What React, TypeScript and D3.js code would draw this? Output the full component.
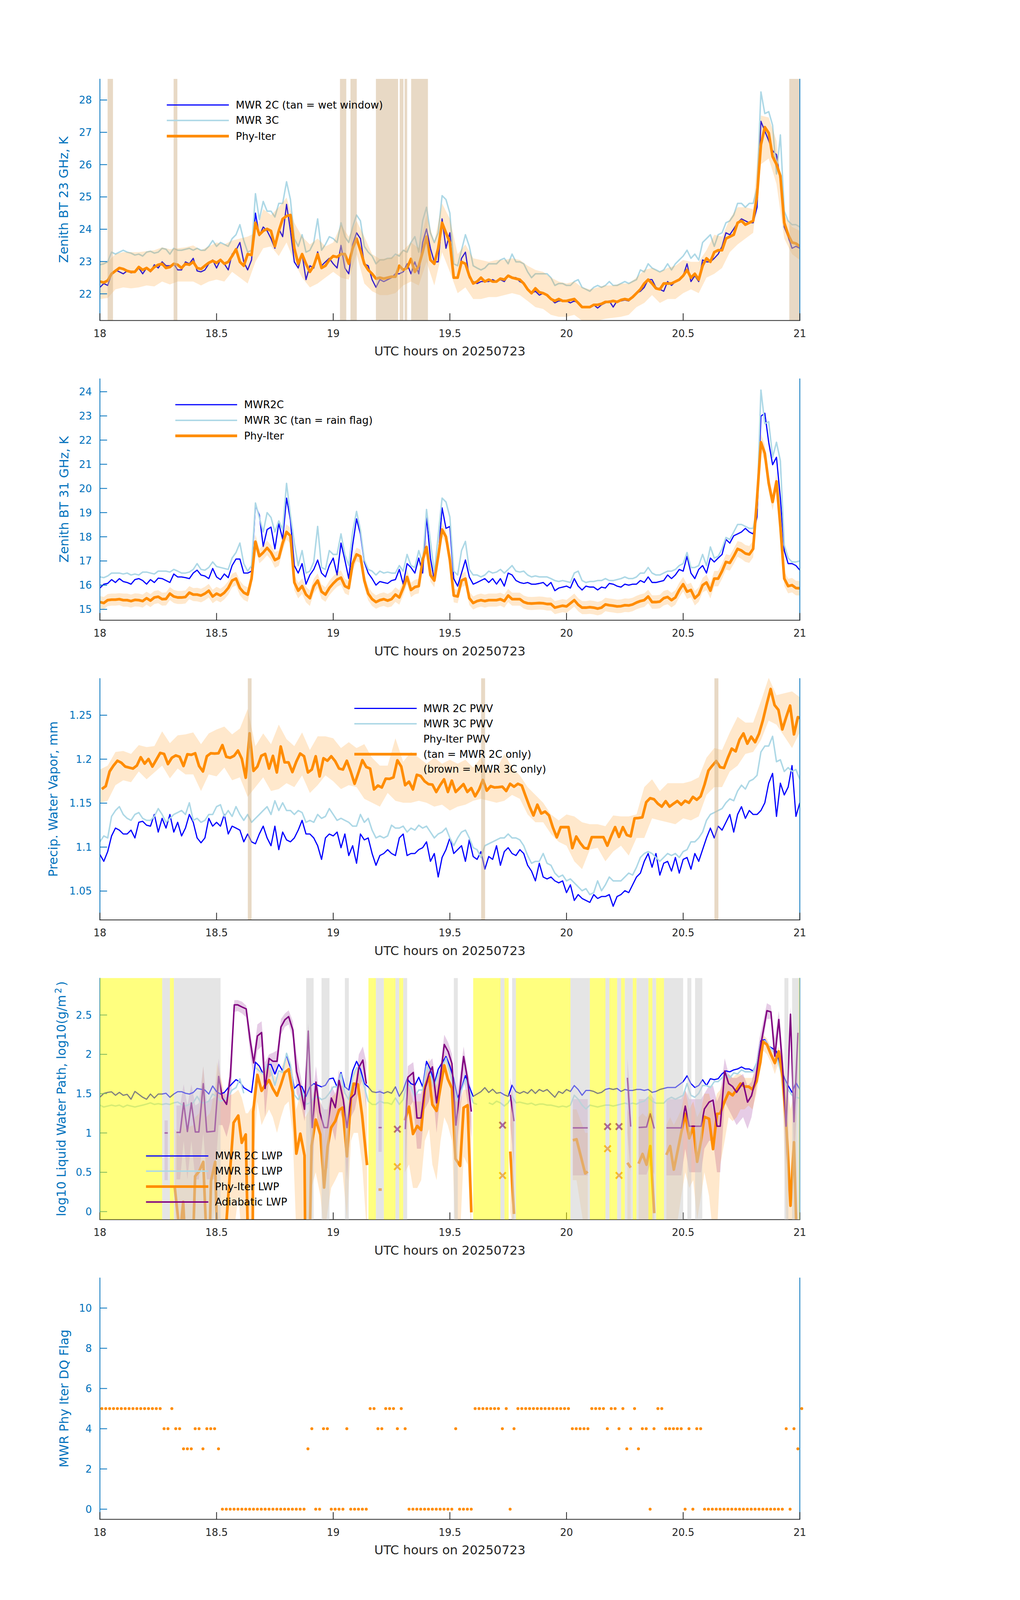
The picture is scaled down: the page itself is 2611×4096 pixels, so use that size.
import React from 'react';
import * as d3 from 'd3';

// ---------------- time grids ----------------
const minuteGrid = d3.range(181).map((k) => 18 + k / 60);
const halfMinuteGrid = d3.range(181).map((k) => 18 + (k + 0.5) / 60);
const twoMinuteGrid = d3.range(91).map((j) => 18 + j / 30);
const xTickValues = [18, 18.5, 19, 19.5, 20, 20.5, 21];

// ---------------- panel 1 : 23 GHz ----------------
const bt23Mwr2c = [
  22.2, 22.32, 22.26, 22.62, 22.74, 22.68, 22.62, 22.71, 22.65, 22.68,
  22.8, 22.62, 22.8, 22.68, 22.9, 22.8, 22.99, 22.87, 22.87, 22.93,
  22.74, 22.74, 22.99, 22.93, 23.1, 22.71, 22.68, 22.74, 22.93, 23.05,
  22.8, 23.05, 22.93, 22.74, 23.23, 23.35, 23.59, 22.99, 22.74, 23.05,
  24.5, 23.8, 24.07, 23.95, 23.71, 23.41, 24.01, 23.77, 24.77, 23.95,
  22.99, 22.8, 23.23, 22.44, 22.87, 22.8, 23.3, 22.87, 22.99, 23.1,
  22.93, 22.8, 23.5, 22.8, 22.62, 23.53, 23.89, 23.71, 22.93, 22.87,
  22.44, 22.2, 22.44, 22.38, 22.44, 22.5, 22.62, 22.62, 22.68, 22.93,
  22.62, 22.99, 22.62, 23.59, 24.01, 23.41, 22.99, 22.99, 24.32, 23.41,
  23.89, 22.5, 22.5, 23.1, 23.29, 22.5, 22.38, 22.32, 22.38, 22.38,
  22.38, 22.44, 22.38, 22.44, 22.38, 22.56, 22.5, 22.5, 22.38, 22.32,
  22.14, 22.02, 22.08, 21.96, 22.02, 21.96, 21.84, 21.72, 21.78, 21.78,
  21.78, 21.72, 21.78, 21.72, 21.59, 21.59, 21.59, 21.66, 21.56, 21.66,
  21.72, 21.78, 21.59, 21.78, 21.78, 21.81, 21.78, 21.9, 22.02, 22.08,
  22.2, 22.44, 22.44, 22.2, 22.14, 22.08, 22.38, 22.26, 22.38, 22.44,
  22.56, 22.93, 22.38, 22.56, 22.38, 23.05, 22.99, 22.99, 23.1, 23.23,
  23.47, 23.89, 23.83, 24.01, 24.2, 24.32, 24.26, 24.2, 24.2, 24.68,
  27.34, 27.04, 26.74, 26.43, 26.31, 25.5, 24.07, 23.77, 23.41, 23.47, 23.41,
];
const bt23Mwr3c = [
  22.9, 22.93, 22.99, 23.29, 23.23, 23.29, 23.35, 23.29, 23.26, 23.2,
  23.23, 23.17, 23.29, 23.32, 23.26, 23.29, 23.41, 23.38, 23.23, 23.41,
  23.35, 23.35, 23.38, 23.41, 23.35, 23.41, 23.35, 23.35, 23.47, 23.65,
  23.47, 23.59, 23.53, 23.47, 23.71, 23.83, 24.14, 23.65, 23.29, 23.35,
  25.1, 24.3, 24.86, 24.56, 24.56, 24.38, 24.8, 24.8, 25.47, 24.92,
  23.71, 23.47, 23.83, 23.29, 23.35, 23.59, 24.32, 23.35, 23.53, 23.77,
  23.71, 23.59, 24.2, 23.77, 23.59, 24.07, 24.44, 24.26, 23.47, 23.29,
  23.17, 22.93, 23.05, 23.05, 23.1, 23.1, 23.23, 23.17, 23.35, 23.29,
  23.59, 23.77, 23.29, 24.26, 24.68, 23.89, 23.59, 23.89, 25.04, 24.92,
  24.5, 22.93, 22.87, 23.35, 23.83, 23.47, 22.87, 22.8, 22.74, 22.8,
  22.93, 22.93, 22.93, 23.05, 23.1, 22.93, 23.23, 22.99, 22.99, 22.93,
  22.68, 22.5, 22.62, 22.62, 22.62, 22.62, 22.5, 22.26, 22.32, 22.32,
  22.26, 22.26, 22.38, 22.44, 22.2, 22.14, 22.08, 22.2, 22.26, 22.2,
  22.26, 22.38, 22.26, 22.26, 22.32, 22.38, 22.32, 22.38, 22.44, 22.74,
  22.68, 22.93, 22.8, 22.74, 22.68, 22.74, 22.93, 22.74, 22.93, 23.05,
  23.17, 23.35, 23.1, 23.23, 23.05, 23.59, 23.71, 23.83, 23.47, 23.83,
  23.89, 24.2, 24.26, 24.44, 24.8, 24.8, 24.68, 24.8, 24.8, 25.28,
  28.25, 27.58, 27.64, 27.22, 25.71, 26.92, 24.56, 24.26, 24.14, 24.14, 24.07,
];
const bt23Phy = [
  22.38, 22.35, 22.41, 22.62, 22.71, 22.8, 22.77, 22.71, 22.68, 22.68,
  22.83, 22.74, 22.8, 22.71, 22.83, 22.9, 22.93, 22.8, 22.83, 22.93,
  22.9, 22.8, 22.93, 22.9, 22.99, 22.8, 22.77, 22.87, 22.96, 23.02,
  22.96, 23.05, 22.93, 22.99, 23.17, 23.38, 22.99, 22.87, 23.23, 23.2,
  24.2, 23.83, 23.95, 24.01, 23.95, 23.47, 23.95, 24.32, 24.41, 24.44,
  23.41, 22.93, 23.23, 22.93, 22.68, 22.87, 23.23, 22.8, 22.87, 23.05,
  23.17, 23.14, 23.23, 23.23, 22.93, 23.41, 23.71, 23.35, 22.93, 22.74,
  22.62, 22.47, 22.5, 22.47, 22.5, 22.53, 22.53, 22.87, 22.74, 22.8,
  23.08, 22.68, 22.87, 23.29, 23.77, 23.05, 22.93, 23.41, 24.2, 23.89,
  23.59, 22.5, 22.5, 22.99, 22.93, 22.56, 22.32, 22.38, 22.5, 22.38,
  22.44, 22.38, 22.38, 22.47, 22.44, 22.56, 22.5, 22.47, 22.44, 22.32,
  22.14, 22.02, 22.17, 22.05, 22.02, 21.96, 21.84, 21.78, 21.84, 21.78,
  21.78, 21.81, 21.84, 21.72, 21.59, 21.59, 21.59, 21.66, 21.66, 21.69,
  21.75, 21.75, 21.78, 21.75, 21.81, 21.84, 21.81, 21.9, 22.02, 22.14,
  22.32, 22.44, 22.32, 22.17, 22.14, 22.32, 22.32, 22.32, 22.38, 22.44,
  22.56, 22.74, 22.5, 22.62, 22.44, 22.87, 23.1, 22.99, 23.29, 23.35,
  23.35, 23.71, 23.77, 23.83, 24.2, 24.26, 24.14, 24.2, 24.26, 25.04,
  26.62, 27.16, 26.98, 26.25, 26.01, 25.65, 24.2, 23.83, 23.59, 23.56, 23.47,
];
const bt23PhyHigh = [
  22.99, 22.99, 23.23, 23.29, 23.29, 23.29, 23.32, 23.35, 23.44, 23.38,
  23.41, 23.44, 23.5, 23.35, 23.47, 23.59, 23.53, 23.65, 23.71, 23.77,
  23.89, 24.62, 24.44, 24.68, 24.98, 24.2, 23.77, 23.53, 23.71, 23.47,
  23.59, 24.14, 23.77, 24.26, 23.77, 23.23, 23.08, 23.1, 23.17, 23.35,
  23.59, 23.41, 24.44, 23.59, 24.8, 24.32, 23.23, 23.53, 23.1, 23.05,
  22.99, 23.05, 23.05, 23.1, 23.05, 22.87, 22.74, 22.68, 22.5, 22.38,
  22.32, 22.38, 22.2, 22.14, 22.2, 22.26, 22.26, 22.32, 22.32, 22.5,
  22.74, 22.8, 22.68, 22.8, 22.87, 23.05, 22.99, 22.99, 23.35, 23.83,
  23.77, 24.32, 24.68, 24.68, 24.62, 27.52, 27.46, 26.74, 24.44, 24.07, 23.95,
];
const bt23PhyLow = [
  21.84, 21.87, 22.14, 22.2, 22.17, 22.2, 22.26, 22.23, 22.38, 22.29,
  22.38, 22.38, 22.38, 22.26, 22.38, 22.44, 22.38, 22.68, 22.5, 22.32,
  22.99, 23.41, 23.47, 23.17, 23.59, 22.99, 22.5, 22.2, 22.32, 22.5,
  22.68, 22.5, 22.44, 23.23, 22.32, 22.08, 21.96, 21.96, 22.02, 22.26,
  22.38, 22.26, 22.99, 22.26, 23.29, 22.68, 22.02, 22.2, 21.84, 21.84,
  21.9, 21.9, 21.96, 22.02, 21.96, 21.78, 21.59, 21.53, 21.35, 21.29,
  21.29, 21.35, 21.17, 21.11, 21.17, 21.23, 21.26, 21.29, 21.35, 21.59,
  21.72, 21.96, 21.72, 21.84, 21.84, 22.02, 22.14, 22.02, 22.5, 22.62,
  22.8, 23.29, 23.53, 23.71, 23.89, 26.01, 26.19, 25.4, 23.71, 23.23, 23.05,
];
const wetWindowSpans = [
  [18.033, 18.056], [18.316, 18.332], [19.029, 19.056], [19.074, 19.101],
  [19.183, 19.278], [19.285, 19.301], [19.306, 19.317], [19.334, 19.406], [20.955, 21.0],
];

// ---------------- panel 2 : 31 GHz ----------------
const bt31Mwr2c = [
  15.88, 16.04, 16.07, 16.23, 16.11, 16.27, 16.15, 16.11, 16.04, 16.23,
  16.27, 16.19, 16.04, 16.23, 16.11, 16.29, 16.27, 16.19, 16.11, 16.46,
  16.34, 16.34, 16.31, 16.27, 16.5, 16.62, 16.42, 16.38, 16.27, 16.69,
  16.34, 16.23, 16.46, 16.31, 16.81, 17.08, 17.08, 16.5, 16.5, 16.58,
  19.3, 18.9, 17.6, 18.3, 18.4, 17.5, 18.55, 17.9, 19.6, 18.7,
  16.81, 16.5, 16.89, 16.04, 16.42, 16.65, 17.04, 16.5, 16.34, 16.81,
  17.12, 16.42, 17.74, 17.04, 16.27, 17.66, 18.74, 18.12, 16.96, 16.5,
  16.27, 16.0, 16.15, 16.11, 16.07, 16.19, 16.23, 16.65, 16.04, 16.89,
  16.73, 16.5, 17.12, 16.5, 18.82, 17.12, 16.19, 17.12, 19.2, 18.35,
  18.43, 16.27, 15.96, 16.5, 17.04, 16.34, 16.04, 16.11, 16.19, 16.27,
  16.11, 16.27, 16.04, 16.27, 15.96, 16.5, 16.42, 16.19, 16.11, 16.07,
  16.11, 16.04, 16.04, 16.07, 16.11, 15.96, 16.11, 15.77, 15.88, 15.92,
  15.96, 15.88, 16.27, 15.96, 15.8, 15.96, 15.92, 15.92, 15.8, 15.92,
  15.88, 16.07, 16.04, 15.96, 15.92, 16.04, 16.0, 16.04, 16.04, 16.19,
  16.11, 16.34, 16.11, 16.11, 16.15, 16.19, 16.42, 16.27, 16.42, 16.65,
  16.58, 17.19, 16.5, 16.27, 16.65, 16.81, 16.5, 17.12, 16.96, 17.12,
  17.27, 17.89, 17.74, 18.04, 18.12, 18.2, 18.35, 18.2, 18.12, 18.82,
  22.99, 23.11, 21.91, 20.98, 21.29, 19.59, 17.43, 16.89, 16.89, 16.81, 16.62,
];
const bt31Mwr3c = [
  16.34, 16.31, 16.38, 16.5, 16.5, 16.5, 16.46, 16.5, 16.42, 16.46,
  16.42, 16.54, 16.54, 16.5, 16.46, 16.58, 16.58, 16.58, 16.54, 16.65,
  16.58, 16.5, 16.5, 16.54, 16.65, 16.89, 16.65, 16.62, 16.73, 16.96,
  16.77, 16.73, 16.69, 16.65, 17.12, 17.35, 17.74, 16.89, 16.58, 16.81,
  19.4, 18.8, 18.2, 19.0, 18.8, 18.2, 18.66, 18.3, 20.21, 18.9,
  17.74, 16.81, 17.43, 16.5, 16.58, 16.96, 18.43, 16.73, 16.65, 17.43,
  17.27, 17.27, 18.12, 17.27, 16.81, 18.2, 19.05, 18.28, 17.04, 16.65,
  16.58, 16.42, 16.58, 16.5, 16.54, 16.5, 16.5, 16.81, 16.58, 17.27,
  16.81, 16.73, 17.43, 16.89, 19.13, 17.81, 16.5, 18.04, 19.6, 19.44,
  18.82, 16.58, 16.42, 17.43, 17.81, 16.65, 16.42, 16.42, 16.34, 16.42,
  16.58, 16.5, 16.54, 16.65, 16.5, 16.65, 16.81, 16.58, 16.54, 16.58,
  16.42, 16.34, 16.38, 16.34, 16.34, 16.34, 16.27, 16.19, 16.15, 16.19,
  16.15, 16.11, 16.5, 16.58, 16.19, 16.11, 16.15, 16.15, 16.19, 16.19,
  16.27, 16.19, 16.19, 16.23, 16.27, 16.34, 16.27, 16.27, 16.34, 16.5,
  16.5, 16.73, 16.5, 16.42, 16.42, 16.5, 16.58, 16.58, 16.65, 16.81,
  16.89, 17.35, 16.73, 16.73, 16.81, 17.27, 16.81, 17.58, 17.12, 17.19,
  17.5, 17.97, 17.89, 18.2, 18.51, 18.51, 18.43, 18.35, 18.35, 19.2,
  24.07, 22.68, 22.76, 21.29, 21.91, 21.14, 17.66, 17.12, 16.96, 16.96, 17.0,
];
const bt31Phy = [
  15.3, 15.26, 15.38, 15.4, 15.4, 15.42, 15.38, 15.38, 15.34, 15.39,
  15.38, 15.34, 15.46, 15.36, 15.49, 15.52, 15.42, 15.43, 15.65, 15.53,
  15.49, 15.49, 15.51, 15.69, 15.61, 15.61, 15.57, 15.65, 15.77, 15.53,
  15.65, 15.57, 15.69, 15.88, 16.19, 16.27, 15.88, 15.69, 15.61, 16.27,
  17.8, 17.2, 17.35, 17.54, 17.35, 17.04, 17.12, 17.74, 18.2, 18.04,
  16.11, 15.77, 15.96, 15.61, 15.46, 15.96, 16.19, 15.73, 15.61, 15.88,
  16.07, 16.23, 16.31, 15.96, 15.88, 16.89, 17.27, 17.19, 16.19, 15.65,
  15.42, 15.3, 15.38, 15.42, 15.36, 15.42, 15.61, 15.49, 15.88, 16.34,
  15.8, 15.92, 15.96, 17.04, 17.58, 16.42, 16.19, 17.19, 18.3, 18.0,
  17.04, 15.57, 15.53, 16.19, 16.27, 15.46, 15.26, 15.34, 15.38, 15.34,
  15.38, 15.38, 15.38, 15.42, 15.34, 15.57, 15.42, 15.42, 15.42, 15.3,
  15.25, 15.24, 15.25, 15.26, 15.25, 15.22, 15.22, 15.07, 15.11, 15.15,
  15.12, 15.25, 15.38, 15.19, 15.07, 15.07, 15.09, 15.07, 15.03, 15.07,
  15.2, 15.17, 15.15, 15.12, 15.13, 15.17, 15.16, 15.2, 15.28, 15.34,
  15.38, 15.53, 15.3, 15.3, 15.32, 15.46, 15.51, 15.38, 15.49, 15.8,
  16.04, 15.73, 15.8, 15.46, 15.61, 16.0, 16.11, 15.77, 16.27, 16.27,
  16.58, 16.96, 16.92, 17.19, 17.5, 17.43, 17.31, 17.27, 17.5, 19.59,
  21.91, 21.45, 20.21, 19.44, 20.29, 18.43, 16.27, 15.96, 16.0, 15.88, 15.87,
];
const bt31PhyUncertainty = [0.25, 0.27, 0.27, 0.28, 0.3, 0.32, 0.3, 0.28, 0.3, 0.28, 0.27, 0.27, 0.27, 0.28, 0.28, 0.3, 0.32, 0.35, 0.3];

// ---------------- panel 3 : PWV ----------------
const pwvMwr2c = [
  1.0916, 1.0838, 1.0949, 1.1127, 1.1216, 1.1193, 1.1149, 1.1149, 1.1193, 1.1104,
  1.1282, 1.1293, 1.1249, 1.1238, 1.1371, 1.1171, 1.1327, 1.1216, 1.1371, 1.1171,
  1.1282, 1.1127, 1.1216, 1.1371, 1.1282, 1.1104, 1.1049, 1.1104, 1.1327, 1.1238,
  1.1282, 1.1238, 1.1371, 1.1149, 1.1238, 1.1216, 1.1193, 1.106, 1.1149, 1.106,
  1.1038, 1.1149, 1.1238, 1.1104, 1.1016, 1.1238, 1.0971, 1.1171, 1.1082, 1.106,
  1.1104, 1.1193, 1.1304, 1.1149, 1.1149, 1.1104, 1.1016, 1.086, 1.1104, 1.1149,
  1.1127, 1.1171, 1.0993, 1.1149, 1.0904, 1.1016, 1.0816, 1.1149, 1.1082, 1.1104,
  1.0927, 1.0793, 1.0904, 1.0927, 1.0971, 1.0927, 1.0904, 1.1104, 1.1149, 1.0904,
  1.0927, 1.0927, 1.0971, 1.0993, 1.106, 1.0838, 1.0927, 1.066, 1.0882, 1.0971,
  1.1104, 1.0927, 1.0971, 1.1016, 1.0838, 1.1082, 1.0893, 1.086, 1.0949, 1.0749,
  1.0893, 1.086, 1.1016, 1.0793, 1.0949, 1.0993, 1.0927, 1.0904, 1.0971, 1.0927,
  1.0793, 1.0727, 1.0616, 1.0816, 1.066, 1.0638, 1.066, 1.0616, 1.0593, 1.0616,
  1.0482, 1.0571, 1.0393, 1.046, 1.0416, 1.0393, 1.0371, 1.046, 1.0416, 1.0438,
  1.0438, 1.046, 1.0327, 1.0438, 1.046, 1.0504, 1.0482, 1.0571, 1.066, 1.0704,
  1.0838, 1.0927, 1.0771, 1.0927, 1.0682, 1.0816, 1.0838, 1.0727, 1.0882, 1.0704,
  1.086, 1.0882, 1.0749, 1.0927, 1.0838, 1.0971, 1.1104, 1.1216, 1.1104, 1.1238,
  1.1193, 1.1282, 1.1371, 1.1171, 1.1371, 1.146, 1.1327, 1.1416, 1.1371, 1.1371,
  1.1416, 1.1504, 1.1727, 1.1838, 1.1349, 1.1727, 1.1593, 1.1682, 1.1927, 1.1349, 1.1504,
];
const pwvMwr3c = [
  1.106, 1.1127, 1.1104, 1.1349, 1.1416, 1.146, 1.1371, 1.1327, 1.1304, 1.1371,
  1.1393, 1.1327, 1.1304, 1.1304, 1.1349, 1.1438, 1.1371, 1.1282, 1.1327, 1.1371,
  1.1393, 1.1416, 1.1371, 1.1504, 1.1304, 1.1327, 1.1282, 1.1304, 1.1371, 1.1371,
  1.146, 1.1482, 1.1349, 1.1416, 1.1349, 1.146, 1.1371, 1.1304, 1.1371, 1.1282,
  1.1327, 1.1371, 1.1416, 1.146, 1.1371, 1.1527, 1.1416, 1.1504, 1.1416, 1.1416,
  1.1371, 1.1416, 1.1393, 1.1282, 1.1304, 1.1282, 1.1371, 1.1327, 1.1349, 1.1438,
  1.1371, 1.1304, 1.1327, 1.1304, 1.1282, 1.1238, 1.1238, 1.1371, 1.1282, 1.1327,
  1.1193, 1.1104, 1.1127, 1.1104, 1.1127, 1.1249, 1.1216, 1.1216, 1.1238, 1.1171,
  1.1216, 1.1193, 1.1249, 1.1216, 1.1238, 1.1171, 1.1104, 1.1149, 1.1171, 1.1216,
  1.1104, 1.1016, 1.1104, 1.1171, 1.1193, 1.1104, 1.0993, 1.0971, 1.0882, 1.1016,
  1.1038, 1.106, 1.1082, 1.1104, 1.1104, 1.1149, 1.1104, 1.1104, 1.1082, 1.1016,
  1.0904, 1.0816, 1.0838, 1.0838, 1.0927, 1.0816, 1.0793, 1.0704, 1.066, 1.0682,
  1.0616, 1.0638, 1.0593, 1.0549, 1.0504, 1.0527, 1.046, 1.0482, 1.0616, 1.0504,
  1.0571, 1.066, 1.0616, 1.0616, 1.0616, 1.066, 1.0704, 1.0682, 1.0771, 1.0882,
  1.0927, 1.0949, 1.0927, 1.0882, 1.0838, 1.0882, 1.0927, 1.0904, 1.0927, 1.0882,
  1.0949, 1.0971, 1.106, 1.106, 1.1104, 1.1171, 1.1304, 1.1371, 1.1393, 1.1416,
  1.1438, 1.1504, 1.1549, 1.1527, 1.1638, 1.1704, 1.166, 1.1749, 1.1771, 1.1816,
  1.2082, 1.2149, 1.2149, 1.226, 1.1971, 1.1993, 1.186, 1.1904, 1.186, 1.1882, 1.1771,
];
const pwvPhy = [
  1.166, 1.1693, 1.186, 1.1927, 1.1982, 1.196, 1.1916, 1.1904, 1.1893, 1.1927,
  1.2022, 1.1949, 1.2002, 1.1916, 1.1993, 1.2071, 1.206, 1.1944, 1.2016, 1.2042,
  1.2027, 1.1922, 1.2056, 1.2049, 1.2067, 1.1922, 1.186, 1.2033, 1.2067, 1.2064,
  1.2067, 1.216, 1.2027, 1.2016, 1.2038, 1.2098, 1.2004, 1.1789, 1.2293, 1.1867,
  1.1916, 1.2038, 1.206, 1.1893, 1.2038, 1.1849, 1.2144, 1.1964, 1.1964, 1.1853,
  1.1971, 1.2064, 1.2033, 1.1849, 1.1882, 1.2033, 1.1804, 1.2011, 1.1982, 1.2033,
  1.1978, 1.1893, 1.1882, 1.1982, 1.186, 1.172, 1.1849, 1.1989, 1.1911, 1.1893,
  1.1656, 1.17, 1.1678, 1.1778, 1.1776, 1.1793, 1.1987, 1.1916, 1.1704, 1.1744,
  1.1656, 1.1822, 1.1809, 1.1749, 1.1716, 1.1711, 1.1627, 1.1704, 1.1771, 1.1627,
  1.1756, 1.1627, 1.1671, 1.1716, 1.1627, 1.1671, 1.1578, 1.1653, 1.1764, 1.1642,
  1.1693, 1.1678, 1.1682, 1.1687, 1.1638, 1.172, 1.1687, 1.172, 1.17, 1.1578,
  1.146, 1.136, 1.1482, 1.1382, 1.1404, 1.136, 1.1222, 1.1111, 1.1227, 1.1227,
  1.1227, 1.0989, 1.112, 1.1049, 1.0993, 1.0982, 1.1113, 1.1113, 1.1113, 1.1113,
  1.1016, 1.1127, 1.1227, 1.1116, 1.1227, 1.1138, 1.1122, 1.1327, 1.1331, 1.1338,
  1.1511, 1.1556, 1.1544, 1.1493, 1.146, 1.1522, 1.146, 1.1493, 1.1524, 1.1482,
  1.1527, 1.1504, 1.1571, 1.1538, 1.1578, 1.1711, 1.1871, 1.1927, 1.1978, 1.1909,
  1.19, 1.2016, 1.212, 1.2089, 1.2222, 1.2293, 1.2176, 1.2256, 1.2193, 1.2289,
  1.2442, 1.2627, 1.2798, 1.2616, 1.256, 1.2338, 1.2478, 1.2609, 1.2282, 1.2478, 1.246,
];
const pwvPhyHigh = [
  1.1882, 1.1927, 1.2082, 1.2093, 1.206, 1.216, 1.2138, 1.2149, 1.2316, 1.2182,
  1.2271, 1.2282, 1.2304, 1.2171, 1.2293, 1.2338, 1.2371, 1.2282, 1.2349, 1.2571,
  1.2149, 1.2293, 1.2171, 1.2393, 1.2227, 1.2149, 1.2304, 1.2104, 1.226, 1.226,
  1.2238, 1.2127, 1.2193, 1.2127, 1.2171, 1.2016, 1.1927, 1.1927, 1.2238, 1.1971,
  1.2082, 1.2016, 1.1949, 1.2016, 1.1949, 1.1993, 1.1949, 1.1993, 1.1904, 1.2016,
  1.1849, 1.1882, 1.206, 1.1904, 1.1816, 1.1682, 1.1593, 1.1504, 1.1371, 1.1304,
  1.1371, 1.1349, 1.1282, 1.126, 1.126, 1.1238, 1.136, 1.1349, 1.1349, 1.1371,
  1.1682, 1.1771, 1.1638, 1.1727, 1.1727, 1.1727, 1.1749, 1.1793, 1.2016, 1.2127,
  1.2104, 1.2304, 1.2482, 1.2416, 1.2416, 1.266, 1.2927, 1.2727, 1.2749, 1.2771, 1.2704,
];
const pwvPhyLow = [
  1.1504, 1.1527, 1.1704, 1.176, 1.1738, 1.186, 1.1771, 1.1849, 1.1927, 1.1782,
  1.1893, 1.1827, 1.1827, 1.1638, 1.1827, 1.1804, 1.1904, 1.176, 1.1793, 1.1571,
  1.1682, 1.1793, 1.1638, 1.166, 1.1727, 1.1682, 1.1816, 1.1616, 1.1704, 1.1816,
  1.1749, 1.166, 1.1704, 1.1682, 1.1549, 1.1504, 1.146, 1.1616, 1.1527, 1.1504,
  1.1504, 1.1527, 1.1504, 1.146, 1.1482, 1.1416, 1.146, 1.1482, 1.1527, 1.1549,
  1.1527, 1.1504, 1.1527, 1.1593, 1.1549, 1.1371, 1.1282, 1.1282, 1.1149, 1.106,
  1.1016, 1.0838, 1.0749, 1.0971, 1.0993, 1.0838, 1.0949, 1.1016, 1.0904, 1.1104,
  1.1104, 1.1327, 1.1304, 1.1282, 1.126, 1.1327, 1.1304, 1.1349, 1.1593, 1.1682,
  1.1682, 1.186, 1.1927, 1.206, 1.2082, 1.2216, 1.2438, 1.2393, 1.226, 1.2127, 1.2304,
];
const pwvTanSpans = [[18.634, 18.65], [19.634, 19.651], [20.634, 20.651]];

// ---------------- panel 4 : LWP ----------------
const N = NaN;
const lwpMwr2c = [
  1.454, 1.503, 1.516, 1.523, 1.479, 1.516, 1.479, 1.491, 1.429, 1.528,
  1.491, 1.454, 1.429, 1.495, 1.444, 1.495, 1.495, 1.505, 1.454, 1.495,
  1.525, 1.525, 1.505, 1.495, 1.515, 1.566, 1.556, 1.546, 1.495, 1.597,
  1.525, 1.495, 1.515, 1.576, 1.627, 1.678, 1.648, 1.576, 1.546, 1.515,
  1.901, 1.851, 1.749, 1.871, 1.871, 1.749, 1.871, 1.79, 1.993, 1.83,
  1.566, 1.617, 1.586, 1.465, 1.586, 1.627, 1.607, 1.586, 1.607, 1.688,
  1.698, 1.586, 1.769, 1.586, 1.546, 1.79, 1.911, 1.81, 1.627, 1.586,
  1.525, 1.515, 1.525, 1.505, 1.525, 1.505, 1.586, 1.465, 1.546, 1.688,
  1.627, 1.607, 1.708, 1.586, 1.911, 1.81, 1.627, 1.81, 1.891, 1.972,
  1.851, 1.688, 1.444, 1.566, 1.729, 1.586, 1.465, 1.495, 1.525, 1.576,
  1.515, 1.556, 1.505, 1.515, 1.485, 1.465, 1.607, 1.525, 1.503, 1.528,
  1.503, 1.553, 1.503, 1.553, 1.528, 1.553, 1.503, 1.454, 1.528, 1.503,
  1.553, 1.528, 1.603, 1.553, 1.479, 1.541, 1.541, 1.528, 1.503, 1.516,
  1.553, 1.566, 1.553, 1.566, 1.528, 1.553, 1.541, 1.541, 1.553, 1.553,
  1.541, 1.553, 1.516, 1.528, 1.553, 1.566, 1.578, 1.578, 1.578, 1.615,
  1.653, 1.727, 1.628, 1.578, 1.603, 1.677, 1.603, 1.69, 1.677, 1.69,
  1.752, 1.789, 1.777, 1.802, 1.814, 1.839, 1.814, 1.814, 1.789, 1.901,
  2.174, 2.187, 2.1, 2.075, 2.038, 1.827, 1.702, 1.603, 1.516, 1.64, 1.553,
];
const lwpMwr3c = [
  1.354, 1.33, 1.342, 1.354, 1.342, 1.354, 1.33, 1.354, 1.342, 1.33,
  1.342, 1.354, 1.367, 1.383, 1.363, 1.373, 1.363, 1.373, 1.363, 1.383,
  1.393, 1.363, 1.343, 1.363, 1.383, 1.465, 1.383, 1.383, 1.404, 1.495,
  1.465, 1.404, 1.424, 1.465, 1.546, 1.576, 1.688, 1.505, N, N,
  1.83, 1.79, 1.749, 1.871, 1.79, 1.607, 1.79, 1.769, 2.013, 1.871,
  1.485, 1.424, 1.546, 1.363, 1.383, 1.444, 1.465, 1.424, 1.444, 1.505,
  1.586, 1.586, 1.749, 1.505, 1.424, 1.708, 1.83, 1.749, 1.586, 1.404,
  1.363, 1.363, 1.404, 1.383, 1.383, 1.363, 1.444, 1.363, 1.424, 1.627,
  1.586, 1.465, 1.546, 1.546, 1.85, 1.749, 1.586, 1.749, 1.83, 1.952,
  1.769, 1.586, 1.404, 1.546, 1.688, 1.546, 1.383, 1.363, N, N,
  1.383, 1.363, 1.404, 1.383, 1.343, 1.383, 1.465, 1.383, 1.392, 1.379,
  1.367, 1.379, 1.354, 1.367, 1.367, 1.354, 1.354, 1.342, 1.33, 1.342,
  1.33, 1.354, 1.479, 1.429, 1.354, 1.305, 1.354, 1.342, 1.33, 1.342,
  1.354, 1.354, 1.342, 1.354, 1.367, 1.379, 1.367, 1.379, 1.367, 1.392,
  1.404, 1.454, 1.404, 1.379, 1.379, 1.379, 1.429, 1.454, 1.429, 1.454,
  1.479, 1.628, 1.479, 1.454, 1.503, 1.603, 1.603, 1.578, 1.653, 1.653,
  1.702, 1.752, 1.702, 1.764, 1.752, 1.802, 1.777, 1.777, 1.777, 1.901,
  2.15, 2.174, 2.1, 2.05, 1.976, 1.802, 1.653, 1.553, 1.479, 1.454, 1.441,
];
const phyLwpTime = [
  18.321, 18.343, 18.357, 18.364, 18.4, 18.408, 18.425, 18.443, 18.456, 18.471, 18.476, 18.494, 18.502,
  18.538, 18.573, 18.593, 18.608, 18.625, 18.634, 18.655, 18.657, 18.675, 18.693, 18.708, 18.725,
  18.741, 18.759, 18.776, 18.792, 18.809, 18.826, 18.842, 18.859, 18.877, 18.88, 18.9, 18.907,
  18.925, 18.945, 18.961, 18.976, 18.991, 19.009, 19.025, 19.04, 19.059, 19.076, 19.088, 19.106,
  19.124, 19.145, N,
  19.307, 19.325, 19.342, 19.36, 19.377, 19.393, 19.411, 19.425, 19.443, 19.46, 19.476, 19.491,
  19.509, 19.524, 19.544, 19.559, 19.576, 19.592, N,
  19.759, 19.775, N,
  20.027, 20.043, 20.08, 20.091, N,
  20.261, 20.275, N,
  20.309, 20.326, 20.343, 20.359, 20.376, N,
  20.428, 20.444, 20.46, 20.477, 20.492, 20.509, 20.526, 20.543, 20.56, 20.577, 20.591, 20.611,
  20.628, 20.645, 20.659, 20.678, 20.695, 20.712, 20.729, 20.746, 20.763, 20.78, 20.797, 20.814,
  20.831, 20.842, 20.859, 20.876, 20.893, 20.91, 20.927, 20.944, 20.96, 20.975, 20.986,
];
const phyLwpValue = [
  0.306, -0.3, 0.124, -0.3, -0.3, 0.449, 0.51, 0.632, -0.3, -0.3, 0.388, 0.632, -0.3,
  -0.3, 1.13, 1.221, 0.875, 0.981, -0.3, -0.3, 1.272, 1.739, 1.536, 1.607, 1.672,
  1.566, 1.475, 1.617, 1.769, 1.81, 1.52, 0.737, 0.991, 0.713, -0.3, -0.3, 0.835,
  1.17, 0.977, 0.306, 0.825, 1.068, 1.15, 1.292, 1.322, 0.703, 1.444, 1.627, 1.617,
  1.221, 0.591, N,
  1.16, 1.333, 0.987, 1.089, 1.038, 1.585, 1.718, 1.362, 1.281, 1.585, 1.86, 1.687,
  1.566, 0.672, 0.581, 1.322, 1.353, -0.01, N,
  0.764, -0.03, N,
  0.907, 0.92, 0.485, 0.509, N,
  0.621, 0.559, N,
  0.609, 0.733, 0.596, 0.833, -0.02, N,
  0.721, 0.833, 0.534, 0.783, 1.006, 1.243, 0.932, 1.081, 0.634, 0.907, 1.205, 1.18,
  0.795, 1.243, 1.25, 1.404, 1.516, 1.479, 1.553, 1.628, 1.59, 1.59, 1.553, 1.653,
  1.901, 2.162, 2.125, 2.0, 1.889, 2.038, 1.702, 1.006, 0.075, 0.882, -0.3,
];
const phyLwpHigh = [
  1.05, 0.95, 1.4, 1.05, 1.1, 1.2, 1.25, 1.85, 1.2, 1.25, 1.3, 1.6, 1.9,
  1.45, 1.5, 1.55, 1.45, 1.25, 1.25, 1.35, 1.5, 1.9, 1.8, 1.8, 1.85,
  1.75, 1.7, 1.8, 1.95, 1.95, 1.8, 1.3, 1.5, 1.3, 1.2, 1.3, 1.4,
  1.6, 1.4, 0.9, 1.3, 1.45, 1.5, 1.6, 1.6, 1.3, 1.75, 1.8, 1.8,
  1.7, 1.3, N,
  1.4, 1.6, 1.4, 1.4, 1.4, 1.8, 1.95, 1.7, 1.7, 1.9, 2.0, 1.95,
  1.85, 1.4, 1.4, 1.55, 1.55, 1.2, N,
  1.5, 1.1, N,
  1.3, 1.3, 1.0, 1.0, N,
  1.3, 1.2, N,
  1.2, 1.25, 1.2, 1.3, 1.2, N,
  1.1, 1.2, 1.1, 1.2, 1.3, 1.55, 1.3, 1.4, 1.2, 1.3, 1.5, 1.5,
  1.3, 1.5, 1.55, 1.7, 1.75, 1.7, 1.75, 1.75, 1.7, 1.7, 1.7, 1.8,
  2.05, 2.25, 2.2, 2.1, 2.0, 2.1, 1.85, 1.6, 1.3, 1.5, 1.2,
];
const phyLwpLow = [
  -0.3, -0.3, -0.3, -0.3, -0.3, -0.3, -0.3, -0.3, -0.3, -0.3, -0.3, 0.1, -0.3,
  -0.3, -0.3, 0.2, -0.3, -0.3, -0.3, -0.3, 0.6, 1.4, 1.1, 1.2, 1.3,
  1.2, 1.0, 1.2, 1.35, 1.4, 1.0, -0.3, -0.3, -0.3, -0.3, -0.3, 0.3,
  0.5, 0.2, -0.3, 0.0, 0.3, 0.4, 0.5, 0.5, -0.1, 0.9, 1.0, 1.0,
  0.6, -0.3, N,
  0.5, 0.6, 0.3, 0.3, 0.4, 0.9, 1.05, 0.6, 0.4, 0.9, 1.2, 1.1,
  0.9, -0.3, -0.3, 0.7, 0.6, -0.3, N,
  0.0, -0.3, N,
  0.4, 0.4, -0.3, -0.3, N,
  -0.3, -0.3, N,
  -0.3, -0.3, -0.3, -0.1, -0.3, N,
  -0.3, -0.3, -0.3, -0.1, 0.2, 0.5, 0.3, 0.4, -0.1, 0.2, 0.5, 0.2,
  -0.3, -0.3, 0.6, 0.9, 1.2, 1.15, 1.2, 1.3, 1.3, 1.35, 1.3, 1.5,
  1.8, 2.05, 2.0, 1.9, 1.75, 1.9, 1.4, -0.3, -0.3, -0.3, -0.3,
];
const adiLwpTime = [
  18.277, 18.291, N,
  18.328, 18.344, 18.359, 18.375, 18.392, 18.409, 18.424, 18.443, 18.458, 18.492, 18.509, 18.525,
  18.543, 18.559, 18.576, 18.591, 18.609, 18.627, 18.644, 18.659, 18.675, 18.693, 18.708, 18.725,
  18.742, 18.759, 18.776, 18.793, 18.809, 18.827, 18.843, 18.859, 18.877, 18.893, 18.91, 18.926,
  18.943, 18.961, 18.976, 18.992, 19.009, 19.025, 19.043, 19.059, 19.076, 19.093, 19.11, 19.127, 19.142, N,
  19.194, 19.208, N,
  19.309, 19.32, 19.343, 19.359, 19.376, 19.392, 19.41, 19.425, 19.443, 19.46, 19.476, 19.493,
  19.509, 19.526, 19.542, 19.559, 19.575, 19.592, N,
  19.759, 19.775, N,
  20.027, 20.091, N,
  20.261, 20.275, N,
  20.309, 20.343, 20.359, 20.376, N,
  20.428, 20.492, 20.509, 20.526, 20.577, 20.591, 20.611, 20.628, 20.645, 20.659, 20.678, 20.695,
  20.712, 20.729, 20.757, 20.776, 20.793, 20.81, 20.827, 20.859, 20.876, 20.893, 20.91, 20.927,
  20.941, 20.96, 20.975, 20.992,
];
const adiLwpValue = [
  1.0, 1.0, N,
  1.007, 1.007, 1.383, 1.018, 1.383, 1.012, 1.012, 1.627, 1.012, 1.022, 1.719, 1.444,
  1.363, 1.719, 2.629, 2.629, 2.602, 2.578, 2.176, 1.891, 2.233, 2.277, 1.566, 1.948,
  1.911, 1.911, 2.348, 2.44, 2.48, 2.308, 1.78, 1.587, 1.302, 2.297, 1.068, 1.647,
  1.261, 1.068, 1.068, 1.444, 1.322, 1.668, 1.424, 1.068, 1.444, 1.495, 1.834, 1.926, 1.627, N,
  1.068, 1.068, N,
  1.048, 1.708, 1.769, 1.19, 1.19, 1.546, 1.749, 1.84, 1.383, 1.729, 2.125, 2.033,
  1.881, 1.099, 1.515, 1.972, 1.698, 1.271, N,
  1.485, 1.15, N,
  1.064, 1.064, N,
  1.702, 1.081, N,
  1.069, 1.076, 1.243, 1.056, N,
  1.064, 1.064, 1.342, 1.086, 1.086, 1.305, 1.392, 1.417, 1.086, 1.086, 1.789, 1.628,
  1.59, 1.516, 1.64, 1.392, 1.474, 1.677, 2.025, 2.555, 2.54, 1.976, 2.443, 1.802,
  1.086, 2.51, 1.143, 2.274,
];
const adiLwpHigh = [
  1.16, 1.16, N,
  1.35, 1.35, 1.62, 1.35, 1.62, 1.35, 1.38, 1.85, 1.4, 1.45, 1.95, 1.52,
  1.5, 1.85, 2.69, 2.69, 2.67, 2.62, 2.3, 2.0, 2.38, 2.42, 1.9, 2.0,
  2.02, 2.05, 2.45, 2.52, 2.56, 2.42, 2.0, 1.75, 1.45, 2.4, 1.4, 1.85,
  1.4, 1.3, 1.3, 1.6, 1.5, 1.8, 1.55, 1.2, 1.55, 1.6, 2.0, 2.1, 1.9, N,
  1.55, 1.55, N,
  1.2, 1.85, 1.9, 1.5, 1.5, 1.7, 1.9, 1.95, 1.6, 1.85, 2.25, 2.15,
  2.0, 1.4, 1.7, 2.1, 1.8, 1.55, N,
  1.7, 1.4, N,
  1.43, 1.43, N,
  1.95, 1.4, N,
  1.43, 1.43, 1.5, 1.43, N,
  1.43, 1.43, 1.55, 1.43, 1.43, 1.5, 1.6, 1.6, 1.4, 1.5, 1.95, 1.75,
  1.7, 1.7, 1.75, 1.6, 1.65, 1.85, 2.2, 2.65, 2.62, 2.2, 2.55, 2.0,
  1.4, 2.6, 1.5, 2.4,
];
const adiLwpLow = [
  0.4, 0.4, N,
  0.41, 0.41, 0.9, 0.41, 0.9, 0.41, 0.41, 1.0, 0.41, 0.41, 1.1, 1.1,
  0.95, 1.15, 2.54, 2.55, 2.52, 2.47, 2.0, 1.7, 2.05, 2.1, 1.2, 1.7,
  1.75, 1.75, 2.25, 2.35, 2.38, 2.2, 1.5, 1.4, 1.15, 1.5, 0.5, 1.3,
  0.9, 0.55, 0.55, 1.1, 0.9, 1.3, 1.15, 0.4, 1.2, 1.3, 1.55, 1.7, 1.3, N,
  0.76, 0.76, N,
  0.45, 1.3, 1.4, 0.8, 0.8, 1.3, 1.4, 1.6, 1.0, 1.5, 1.95, 1.85,
  1.6, 0.7, 1.2, 1.7, 1.4, 0.95, N,
  1.1, 0.6, N,
  0.46, 0.46, N,
  1.0, 0.5, N,
  0.47, 0.47, 0.6, 0.47, N,
  0.46, 0.46, 0.8, 0.5, 0.5, 0.8, 0.9, 0.9, 0.5, 0.5, 1.4, 1.3,
  1.2, 1.1, 1.2, 1.05, 1.2, 1.5, 1.9, 2.45, 2.45, 1.8, 2.3, 1.6,
  0.6, 2.3, 0.7, 1.5,
];
const adiMarkerTime = [19.275, 19.726, 20.176, 20.225];
const adiMarkerValue = [1.048, 1.099, 1.081, 1.081];
const phyMarkerTime = [19.275, 19.726, 20.176, 20.225];
const phyMarkerValue = [0.571, 0.459, 0.8, 0.46];
const phyDashTime = [19.194, 19.208];
const phyDashValue = [0.28, 0.28];
const yellowSpans = [
  [18.0, 18.267], [18.3, 18.317], [19.151, 19.183], [19.217, 19.267], [19.283, 19.3],
  [19.6, 19.717], [19.734, 19.752], [19.783, 20.017], [20.1, 20.167], [20.184, 20.217],
  [20.234, 20.25], [20.284, 20.3], [20.351, 20.368], [20.384, 20.418], [20.995, 21.0],
];
const graySpans = [
  [18.267, 18.3], [18.317, 18.517], [18.884, 18.916], [18.95, 18.984], [19.05, 19.067],
  [19.183, 19.217], [19.267, 19.283], [19.3, 19.317], [19.517, 19.534], [19.717, 19.734],
  [19.767, 19.783], [20.017, 20.1], [20.167, 20.184], [20.217, 20.234], [20.25, 20.284],
  [20.3, 20.351], [20.368, 20.384], [20.418, 20.5], [20.518, 20.535], [20.551, 20.582],
  [20.934, 20.951], [20.967, 21.0],
];

// ---------------- panel 5 : DQ flag ----------------
const dqFlag = [
  5, 5, 5, 5, 5, 5, 5, 5, 5, 5,
  5, 5, 5, 5, 5, 5, 4, 4, 5, 4,
  4, 3, 3, 3, 4, 4, 3, 4, 4, 4,
  3, 0, 0, 0, 0, 0, 0, 0, 0, 0,
  0, 0, 0, 0, 0, 0, 0, 0, 0, 0,
  0, 0, 0, 3, 4, 0, 0, 4, 4, 0,
  0, 0, 0, 4, 0, 0, 0, 0, 0, 5,
  5, 4, 4, 5, 5, 5, 4, 5, 4, 0,
  0, 0, 0, 0, 0, 0, 0, 0, 0, 0,
  0, 4, 0, 0, 0, 0, 5, 5, 5, 5,
  5, 5, 5, 4, 5, 0, 4, 5, 5, 5,
  5, 5, 5, 5, 5, 5, 5, 5, 5, 5,
  5, 4, 4, 4, 4, 4, 5, 5, 5, 5,
  4, 5, 5, 4, 5, 3, 4, 5, 3, 4,
  4, 0, 4, 5, 5, 4, 4, 4, 4, 4,
  0, 4, 0, 4, 4, 0, 0, 0, 0, 0,
  0, 0, 0, 0, 0, 0, 0, 0, 0, 0,
  0, 0, 0, 0, 0, 0, 4, 0, 4, 3, 5,
];

// ---------------- styling & layout (reference pixels, scaled by 0.682) ----------------
const K = 0.682;
const FONT = "'DejaVu Sans', sans-serif";
const AXIS_BLUE = '#0072BD';
const DARK = '#262626';
const C_2C = '#0000FF';
const C_3C = '#ADD8E6';
const C_PHY = '#FF8C00';
const C_ADI = '#800080';
const C_TAN = 'rgb(210,180,140)';
const W_2C = 4.5;
const W_3C = 5.5;
const W_PHY = 10;
const W_ADI = 5.5;
const X0 = 375;
const X1 = 3002;
const AXH = 907;
const TICK_FS = 38;
const LABEL_FS = 47;
const LEG_FS = 38.5;
const xScale = d3.scaleLinear().domain([18, 21]).range([X0, X1]);

type Pt = [number, number];
const zip = (t: number[], v: number[]): Pt[] => t.map((ti, i) => [ti, v[i]] as Pt);
const zip3 = (t: number[], a: number[], b: number[]) => t.map((ti, i) => [ti, a[i], b[i]] as [number, number, number]);

function linePath(y: d3.ScaleLinear<number, number>, pts: Pt[]) {
  return d3.line<Pt>()
    .defined((d) => Number.isFinite(d[0]) && Number.isFinite(d[1]))
    .x((d) => xScale(d[0]))
    .y((d) => y(d[1]))(pts) || '';
}
function areaPath(y: d3.ScaleLinear<number, number>, pts: [number, number, number][]) {
  return d3.area<[number, number, number]>()
    .defined((d) => Number.isFinite(d[0]) && Number.isFinite(d[1]) && Number.isFinite(d[2]))
    .x((d) => xScale(d[0]))
    .y0((d) => y(d[2]))
    .y1((d) => y(d[1]))(pts) || '';
}

function Spans({ spans, top, fill, opacity }: { spans: number[][]; top: number; fill: string; opacity: number }) {
  return (
    <g>
      {spans.map((s, i) => (
        <rect key={i} x={xScale(s[0])} y={top} width={xScale(s[1]) - xScale(s[0])} height={AXH} fill={fill} fillOpacity={opacity} />
      ))}
    </g>
  );
}

type LegendRow = { y: number; label: string; color?: string; width?: number };
function Legend({ x0, x1, xt, rows }: { x0: number; x1: number; xt: number; rows: LegendRow[] }) {
  return (
    <g>
      {rows.map((r, i) => (
        <g key={i}>
          {r.color && <line x1={x0} x2={x1} y1={r.y} y2={r.y} stroke={r.color} strokeWidth={r.width || 3} />}
          <text x={xt} y={r.y} dy="0.35em" fontFamily={FONT} fontSize={LEG_FS} fill="#000">{r.label}</text>
        </g>
      ))}
    </g>
  );
}

function Axes(props: {
  id: string; top: number; y: d3.ScaleLinear<number, number>; ticks: number[]; fmt: (v: number) => string;
  label: React.ReactNode; labelX: number; children?: React.ReactNode; overlay?: React.ReactNode; legend?: React.ReactNode;
}) {
  const { id, top, y, ticks, fmt, label, labelX, children, overlay, legend } = props;
  const bottom = top + AXH;
  return (
    <g>
      <defs>
        <clipPath id={id}><rect x={X0} y={top} width={X1 - X0} height={AXH} /></clipPath>
        <clipPath id={id + 'o'}><rect x={X0 - 2} y={top} width={X1 - X0 + 4} height={AXH} /></clipPath>
      </defs>
      <g clipPath={`url(#${id})`}>{children}</g>
      <line x1={X0} y1={top} x2={X0} y2={bottom} stroke={AXIS_BLUE} strokeWidth={3} />
      <line x1={X1} y1={top} x2={X1} y2={bottom} stroke={AXIS_BLUE} strokeWidth={3} />
      <line x1={X0 - 1.5} y1={bottom} x2={X1 + 1.5} y2={bottom} stroke={DARK} strokeWidth={3} />
      {ticks.map((t) => (
        <line key={'yt' + t} x1={X0} x2={X0 + 27} y1={y(t)} y2={y(t)} stroke={AXIS_BLUE} strokeWidth={3} />
      ))}
      {xTickValues.map((t) => (
        <line key={'xt' + t} x1={xScale(t)} x2={xScale(t)} y1={bottom} y2={bottom - 27} stroke={DARK} strokeWidth={3} />
      ))}
      {overlay && <g clipPath={`url(#${id}o)`}>{overlay}</g>}
      {ticks.map((t) => (
        <text key={'yl' + t} x={345} y={y(t)} dy="0.36em" textAnchor="end" fontFamily={FONT} fontSize={TICK_FS} fill={AXIS_BLUE}>{fmt(t)}</text>
      ))}
      {xTickValues.map((t) => (
        <text key={'xl' + t} x={xScale(t)} y={bottom + 62} textAnchor="middle" fontFamily={FONT} fontSize={TICK_FS} fill={DARK}>{String(t)}</text>
      ))}
      <text x={(X0 + X1) / 2} y={bottom + 132} textAnchor="middle" fontFamily={FONT} fontSize={LABEL_FS} fill={DARK}>UTC hours on 20250723</text>
      <text transform={`translate(${labelX},${top + AXH / 2}) rotate(-90)`} textAnchor="middle" fontFamily={FONT} fontSize={LABEL_FS} fill={AXIS_BLUE}>{label}</text>
      {legend}
    </g>
  );
}

const TOPS = [296, 1421, 2546, 3671, 4796];
const yScale = (i: number, dom: [number, number]) => d3.scaleLinear().domain(dom).range([TOPS[i] + AXH, TOPS[i]]);

export default function App() {
  const y1 = yScale(0, [21.175, 28.655]);
  const y2 = yScale(1, [14.55, 24.545]);
  const y3 = yScale(2, [1.0172, 1.292]);
  const y4 = yScale(3, [-0.102, 2.971]);
  const y5 = yScale(4, [-0.504, 11.51]);

  const bt31Band = minuteGrid.map((t, i) => {
    const u = bt31PhyUncertainty[Math.round((t - 18) * 6)];
    return [t, bt31Phy[i] + u, bt31Phy[i] - u] as [number, number, number];
  });

  const xMark = (cx: number, cy: number, color: string, key: string) => (
    <path key={key} d={`M${cx - 12},${cy - 12}L${cx + 12},${cy + 12}M${cx - 12},${cy + 12}L${cx + 12},${cy - 12}`} stroke={color} strokeWidth={7} fill="none" />
  );

  return (
    <div style={{ position: 'absolute', left: 0, top: 0 }}>
      <svg width={2611} height={4096} style={{ display: 'block', background: '#fff' }}>
        <rect x={0} y={0} width={2611} height={4096} fill="#fff" />
        <g transform={`scale(${K})`}>
          {/* Panel 1 */}
          <Axes id="c1" top={TOPS[0]} y={y1} ticks={[22, 23, 24, 25, 26, 27, 28]} fmt={(v) => String(v)}
            label="Zenith BT 23 GHz, K" labelX={255}
            legend={<Legend x0={626} x1={859} xt={885} rows={[
              { y: 394, label: 'MWR 2C (tan = wet window)', color: C_2C, width: W_2C },
              { y: 452, label: 'MWR 3C', color: C_3C, width: W_3C },
              { y: 511, label: 'Phy-Iter', color: C_PHY, width: W_PHY },
            ]} />}>
            <path d={linePath(y1, zip(minuteGrid, bt23Mwr2c))} fill="none" stroke={C_2C} strokeWidth={W_2C} strokeLinejoin="round" />
            <path d={linePath(y1, zip(minuteGrid, bt23Mwr3c))} fill="none" stroke={C_3C} strokeWidth={W_3C} strokeLinejoin="round" />
            <path d={areaPath(y1, zip3(twoMinuteGrid, bt23PhyHigh, bt23PhyLow))} fill={C_PHY} fillOpacity={0.2} />
            <path d={linePath(y1, zip(minuteGrid, bt23Phy))} fill="none" stroke={C_PHY} strokeWidth={W_PHY} strokeLinejoin="round" />
            <Spans spans={wetWindowSpans} top={TOPS[0]} fill={C_TAN} opacity={0.5} />
          </Axes>

          {/* Panel 2 */}
          <Axes id="c2" top={TOPS[1]} y={y2} ticks={[15, 16, 17, 18, 19, 20, 21, 22, 23, 24]} fmt={(v) => String(v)}
            label="Zenith BT 31 GHz, K" labelX={256}
            legend={<Legend x0={658} x1={890} xt={916} rows={[
              { y: 1519, label: 'MWR2C', color: C_2C, width: W_2C },
              { y: 1578, label: 'MWR 3C (tan = rain flag)', color: C_3C, width: W_3C },
              { y: 1636, label: 'Phy-Iter', color: C_PHY, width: W_PHY },
            ]} />}>
            <path d={linePath(y2, zip(minuteGrid, bt31Mwr2c))} fill="none" stroke={C_2C} strokeWidth={W_2C} strokeLinejoin="round" />
            <path d={linePath(y2, zip(minuteGrid, bt31Mwr3c))} fill="none" stroke={C_3C} strokeWidth={W_3C} strokeLinejoin="round" />
            <path d={areaPath(y2, bt31Band)} fill={C_PHY} fillOpacity={0.2} />
            <path d={linePath(y2, zip(minuteGrid, bt31Phy))} fill="none" stroke={C_PHY} strokeWidth={W_PHY} strokeLinejoin="round" />
          </Axes>

          {/* Panel 3 */}
          <Axes id="c3" top={TOPS[2]} y={y3} ticks={[1.05, 1.1, 1.15, 1.2, 1.25]} fmt={(v) => String(+v.toFixed(2))}
            label="Precip. Water Vapor, mm" labelX={215}
            legend={<Legend x0={1330} x1={1564} xt={1589} rows={[
              { y: 2659, label: 'MWR 2C PWV', color: C_2C, width: W_2C },
              { y: 2717, label: 'MWR 3C PWV', color: C_3C, width: W_3C },
              { y: 2774, label: 'Phy-Iter PWV' },
              { y: 2831, label: '(tan = MWR 2C only)', color: C_PHY, width: W_PHY },
              { y: 2887, label: '(brown = MWR 3C only)' },
            ]} />}>
            <path d={linePath(y3, zip(minuteGrid, pwvMwr2c))} fill="none" stroke={C_2C} strokeWidth={W_2C} strokeLinejoin="round" />
            <path d={linePath(y3, zip(minuteGrid, pwvMwr3c))} fill="none" stroke={C_3C} strokeWidth={W_3C} strokeLinejoin="round" />
            <path d={areaPath(y3, zip3(twoMinuteGrid, pwvPhyHigh, pwvPhyLow))} fill={C_PHY} fillOpacity={0.2} />
            <path d={linePath(y3, zip(halfMinuteGrid, pwvPhy))} fill="none" stroke={C_PHY} strokeWidth={W_PHY} strokeLinejoin="round" />
            <Spans spans={pwvTanSpans} top={TOPS[2]} fill={C_TAN} opacity={0.5} />
          </Axes>

          {/* Panel 4 */}
          <Axes id="c4" top={TOPS[3]} y={y4} ticks={[0, 0.5, 1, 1.5, 2, 2.5]} fmt={(v) => String(v)}
            label={<>log10 Liquid Water Path, log10(g/m<tspan dx={6} dy={-17} fontSize={33}>2</tspan><tspan dx={6} dy={17}>)</tspan></>}
            labelX={247}
            overlay={<>
              <Spans spans={yellowSpans} top={TOPS[3]} fill="#FFFF00" opacity={0.5} />
              <Spans spans={graySpans} top={TOPS[3]} fill="#CCCCCC" opacity={0.5} />
            </>}
            legend={<Legend x0={548} x1={782} xt={807} rows={[
              { y: 4339, label: 'MWR 2C LWP', color: C_2C, width: W_2C },
              { y: 4396, label: 'MWR 3C LWP', color: C_3C, width: W_3C },
              { y: 4454, label: 'Phy-Iter LWP', color: C_PHY, width: W_PHY },
              { y: 4512, label: 'Adiabatic LWP', color: C_ADI, width: W_ADI },
            ]} />}>
            <path d={areaPath(y4, zip3(adiLwpTime, adiLwpHigh, adiLwpLow))} fill={C_ADI} fillOpacity={0.2} />
            <path d={areaPath(y4, zip3(phyLwpTime, phyLwpHigh, phyLwpLow))} fill={C_PHY} fillOpacity={0.2} />
            <path d={linePath(y4, zip(minuteGrid, lwpMwr2c))} fill="none" stroke={C_2C} strokeWidth={W_2C} strokeLinejoin="round" />
            <path d={linePath(y4, zip(minuteGrid, lwpMwr3c))} fill="none" stroke={C_3C} strokeWidth={W_3C} strokeLinejoin="round" />
            <path d={linePath(y4, zip(phyLwpTime, phyLwpValue))} fill="none" stroke={C_PHY} strokeWidth={W_PHY} strokeLinejoin="round" />
            <path d={linePath(y4, zip(phyDashTime, phyDashValue))} fill="none" stroke={C_PHY} strokeWidth={W_PHY} />
            <path d={linePath(y4, zip(adiLwpTime, adiLwpValue))} fill="none" stroke={C_ADI} strokeWidth={W_ADI} strokeLinejoin="round" />
            {adiMarkerTime.map((t, i) => xMark(xScale(t), y4(adiMarkerValue[i]), C_ADI, 'am' + i))}
            {phyMarkerTime.map((t, i) => xMark(xScale(t), y4(phyMarkerValue[i]), C_PHY, 'pm' + i))}
          </Axes>

          {/* Panel 5 */}
          <Axes id="c5" top={TOPS[4]} y={y5} ticks={[0, 2, 4, 6, 8, 10]} fmt={(v) => String(v)}
            label="MWR Phy Iter DQ Flag" labelX={256} />
          <g>
            {halfMinuteGrid.map((t, i) => (
              <circle key={i} cx={xScale(t)} cy={y5(dqFlag[i])} r={5.5} fill={C_PHY} />
            ))}
          </g>
        </g>
      </svg>
    </div>
  );
}
